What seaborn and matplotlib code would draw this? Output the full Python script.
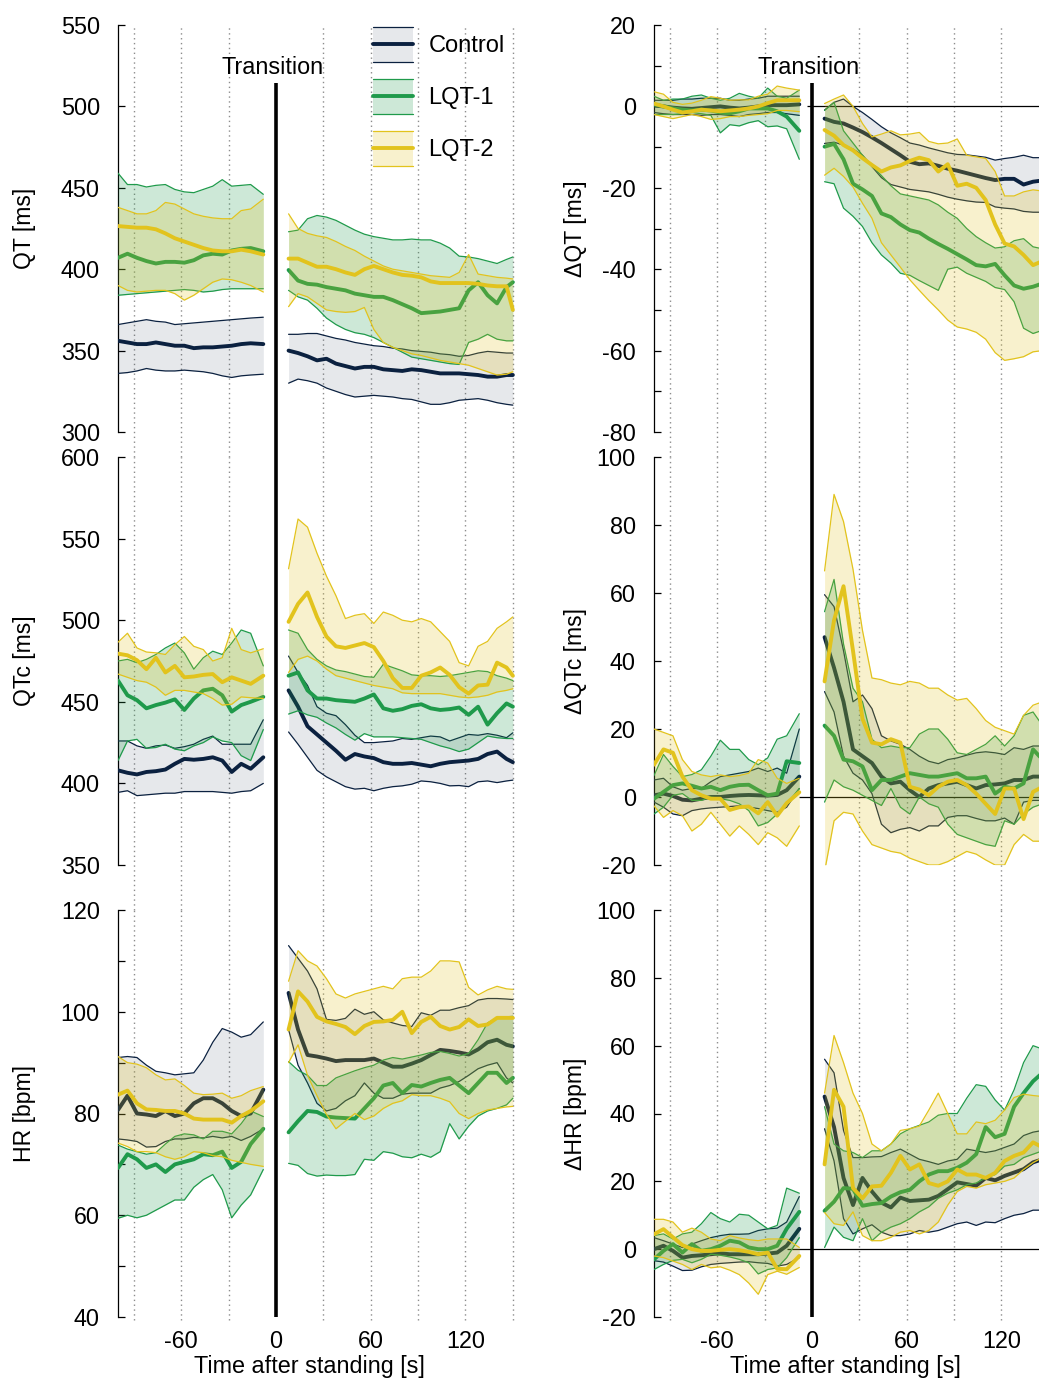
#!/usr/bin/env python
"""
  QT, QTc and heart rate around standing up: Control vs LQT-1 vs LQT-2
"""

import matplotlib
matplotlib.use('Agg')
import matplotlib.pyplot as plt
import matplotlib.transforms as mtransforms
from matplotlib.legend_handler import HandlerBase
from matplotlib.lines import Line2D
from matplotlib.patches import Rectangle
from matplotlib.ticker import MultipleLocator
import seaborn as sns
import pandas as pd

# sample times (s) before and after the transition
PRE_T = [-100, -94, -88, -82, -76, -70, -64, -58, -52, -46, -40, -34, -28, -22, -16, -8]
POST_T = [8, 14, 20, 26, 32, 38, 44, 50, 56, 62, 68, 74, 80, 86, 92, 98, 104, 110,
          116, 122, 128, 134, 140, 146, 150]
GRID_X = [-90, -60, -30, 30, 60, 90, 120, 150]
XTICKS = [-60, 0, 60, 120]

GROUPS = ["Control", "LQT-1", "LQT-2"]
COLORS = ["#0b2140", "#1f9a4b", "#e2c31d"]
ALPHAS = [0.10, 0.22, 0.22]

# every list: 16 values before standing, then 25 after

# --- QT [ms]
qt_ctrl_mean = [356, 355, 354, 354, 355, 354, 353, 353, 351.5, 352, 352, 352.5, 353, 354, 354.5, 354,
                350, 348.5, 346.5, 344, 345, 342, 340.5, 339, 340, 340, 338.5, 338, 337.5, 338.5, 338,
                337, 336, 336, 336, 335.5, 335, 334, 334, 335, 335]
qt_ctrl_hi = [366, 367, 368, 369, 368, 367.5, 366, 366.5, 367, 367.5, 368, 368.5, 369, 369.5, 370, 370.5,
              360, 360, 360.5, 360.5, 359, 357.5, 356.5, 355, 354, 353, 352.5, 351.5, 351, 350, 349.5,
              349, 348, 347.5, 346.5, 347, 348.5, 349.5, 349, 348.5, 348.5]
qt_ctrl_lo = [336, 336.5, 337.5, 339, 338, 337.5, 337.5, 338, 337.5, 337, 336, 334.5, 333.5, 334.5, 335, 335.5,
              330, 332.5, 331.5, 330, 327, 325, 323, 321.5, 322, 322.5, 322, 321.5, 320.5, 320, 318.5,
              317, 317, 318, 319.5, 320, 320.5, 319.5, 318, 317, 316.5]
qt_lqt1_mean = [407, 409.5, 407, 405, 403.5, 404.5, 404.5, 404, 405.5, 408.5, 409.5, 409, 411.5, 412.5, 413, 411,
                399.5, 393, 391, 390.5, 389, 388, 387, 385, 384, 383, 383, 381, 378.5, 376, 373,
                373.5, 374, 375, 376, 387, 392, 384, 379, 389, 392]
qt_lqt1_hi = [459, 452, 452, 450.5, 451.5, 452, 449, 447.5, 447, 449, 451, 455, 451, 451.5, 452, 446,
              423, 424, 431, 433, 432, 430, 427, 424, 421.5, 420, 419, 418, 418, 418.5, 418,
              418, 416, 413, 408, 407.5, 406.5, 405, 403.5, 406, 407.5]
qt_lqt1_lo = [384, 384.5, 385, 385.5, 386, 386.5, 387, 387.5, 387, 386, 386.5, 387.5, 388, 388, 388, 388,
              387, 383, 381, 376, 370, 366, 363, 361, 360, 358, 355, 352, 349, 346, 345,
              344, 343, 342, 341.5, 355, 357, 360, 357, 356, 356]
qt_lqt2_mean = [426.5, 426, 425.5, 425.5, 424.5, 422, 419, 417, 415, 413, 411.5, 411, 411, 412, 411, 409,
                406.5, 406.5, 404, 401.5, 401.5, 400, 398, 396.5, 400, 402, 400, 398, 396.5, 396, 395,
                392.5, 391.5, 391.5, 391.5, 391.5, 391, 390, 389.5, 389.5, 375]
qt_lqt2_hi = [438, 436, 434, 434, 436, 441, 440, 437, 434, 432.5, 431.5, 431, 431, 436, 437, 443,
              434, 425, 422, 420.5, 419.5, 417, 414, 411.5, 408, 405, 402, 400, 399, 398, 397,
              396, 395.5, 395, 398, 409, 397, 396, 395, 394.5, 394]
qt_lqt2_lo = [390, 387, 386, 386.5, 387, 387, 385, 381, 384, 388, 392, 394, 393.5, 392, 390, 386,
              377, 385, 383, 379, 375, 374, 373.5, 374, 376.5, 363, 355, 352, 350, 348, 347,
              345.5, 344, 343, 342, 341, 339, 337, 335, 335.5, 337]

# --- delta QT [ms]
dqt_ctrl_mean = [0.2, 0, -0.3, -0.5, -0.6, -0.4, -0.2, 0, -0.3, -0.5, -0.3, 0, 0.3, 0.3, 0.3, 0.5,
                 -3, -3.8, -4.2, -5.2, -6.3, -7.6, -9, -10.5, -12, -13.6, -14.2, -14, -14.6, -15.3, -15.8,
                 -16.4, -17, -17.6, -18.1, -17.8, -17.8, -19.2, -18.5, -18.2, -18.2]
dqt_ctrl_hi = [1.5, 1.5, 1.5, 1.8, 1.8, 2, 2, 2, 1.5, 1.5, 1.8, 2, 2.5, 2.5, 2.5, 2.5,
               -0.9, 1, 1.8, 0, -1.5, -3.2, -5, -6.5, -7.7, -9, -9.5, -10.2, -10.8, -11.4, -11.8,
               -11.9, -12.2, -12.5, -13.2, -12.8, -12.5, -12, -12.6, -12.6, -12.6]
dqt_ctrl_lo = [-1.5, -1.8, -2, -2, -2, -2.2, -2, -2, -2.2, -2.5, -2, -1.8, -1.5, -1.5, -1.8, -2.2,
               -9.1, -8.8, -9.5, -10.5, -12, -14.8, -17.5, -19.2, -19.8, -20.4, -20.7, -21, -21.6, -22.3, -22.8,
               -23.2, -23.5, -23.6, -24.7, -25, -25.2, -25.8, -26, -26, -26]
dqt_lqt1_mean = [0.5, 0, -0.5, -0.8, -1, -0.8, -1, -1.5, -1.7, -1.2, -0.5, -0.5, -0.5, -1.2, -2.5, -6,
                 -9.9, -9.2, -13, -19, -20.4, -22, -26.3, -27.2, -29, -30.4, -31, -32.5, -33.8, -35, -36.3,
                 -37.6, -39, -39.3, -38.7, -41.5, -44, -44.8, -44.3, -43.5, -43.5]
dqt_lqt1_hi = [2.5, 1.5, 1.8, 1.8, 2.5, 2.8, 2, 1.5, 2, 3.2, 2.5, 2, 4.5, 2.5, 2, 4,
               -1, 1, -6, -9, -12, -14.5, -17, -19.5, -21.5, -22, -22.5, -23, -24.2, -26, -27.5,
               -30, -32, -33.5, -34.8, -34.5, -33, -32.5, -34.5, -35, -35]
dqt_lqt1_lo = [-2, -2, -2, -1.8, -1.5, -1.8, -2.2, -6.5, -4.5, -4.8, -4, -3.5, -5, -4.8, -5.5, -13,
               -18.5, -19, -25, -27, -29.5, -33.5, -36.5, -38.5, -41, -41.5, -42.8, -44, -45.2, -40, -39.5,
               -41, -42, -43, -44.5, -45, -48, -54.5, -55.8, -55, -55]
dqt_lqt2_mean = [0.7, 0, -0.8, -1.5, -1.2, -0.8, -1, -1.2, -1, -0.8, -0.5, 0, 0.8, 1.5, 1.5, 1.5,
                 -5.8, -7.2, -9.5, -10.8, -12.7, -14.4, -16, -15, -14.5, -13.4, -12.6, -13.2, -16, -14.2, -19.5,
                 -19, -20, -23, -29, -33.7, -34.4, -36.5, -39, -38, -38]
dqt_lqt2_hi = [3.6, 3, 1, 0.5, 0.8, 1.5, 2.4, 2, 1.5, 1.6, 1.6, 2.5, 3, 5, 4.5, 4,
               0.7, 1.8, 2.8, 0, -4.2, -7.5, -6.8, -6, -7, -6.8, -6.4, -8.6, -9.2, -9, -8,
               -12, -12.4, -12.8, -16, -22, -22, -21, -20.5, -20.8, -21]
dqt_lqt2_lo = [-2, -2.5, -3, -2.5, -2, -2.5, -3.2, -3, -2.5, -2.5, -2.2, -2, -1.8, -1, -1, -1.3,
               -16.9, -15.2, -17.2, -19.8, -23.8, -27.5, -33.5, -36.5, -39.5, -42.6, -45.2, -47.7, -50, -52.5, -54.2,
               -54.7, -55.5, -57.2, -60.5, -62.4, -62, -61.5, -60.3, -60, -60]

# --- QTc [ms]
qtc_ctrl_mean = [408, 406.5, 405.5, 407, 407.5, 408.5, 412, 415, 414.5, 415, 416, 414, 407, 412, 409, 416,
                 457, 447, 435, 430, 425, 420, 414.5, 418, 416.5, 415.5, 413, 412, 412, 412.5, 411.5,
                 410.5, 412, 413, 413.5, 414, 415, 418, 419.5, 415, 413]
qtc_ctrl_hi = [426, 426, 423, 421.5, 423, 423.5, 421.5, 422.5, 424, 427, 429, 424, 424, 424, 424, 439,
               478, 468, 460, 447, 443, 441.5, 436, 429.5, 425, 425, 425.5, 426, 427.5, 427, 428,
               429, 428.5, 426, 428, 430, 429.5, 430.5, 429.5, 428, 431]
qtc_ctrl_lo = [394.5, 395.5, 392.5, 393, 393.5, 394, 394, 395, 395, 395, 395, 394.5, 394, 395, 395.5, 400,
               431.5, 424, 416, 408, 404, 401, 398, 396.5, 397, 395.5, 397, 398, 398.5, 399.5, 401.5,
               401, 400, 398.5, 398.7, 398, 401, 401.5, 400.5, 401.5, 402]
qtc_lqt1_mean = [463, 454, 451, 446, 448, 449.5, 451.5, 445, 452, 457, 458, 454, 444, 448, 450, 453,
                 466, 468, 457, 452, 452, 451, 450.5, 450, 452, 454.5, 446, 444.5, 445.5, 447.5, 448.5,
                 446, 445, 445.5, 446.5, 442, 447, 436, 443, 449, 447]
qtc_lqt1_hi = [475, 476, 474, 476, 479, 483, 486, 480, 470, 477, 481, 479, 486, 494, 492, 472,
               494, 492, 482, 476, 472, 469.5, 468.5, 467, 465.5, 465, 473, 471, 469, 466.5, 466,
               466, 465.5, 466, 467, 468, 469, 468.5, 466, 464.5, 463]
qtc_lqt1_lo = [414, 426, 427, 421.5, 422, 424, 421, 420, 423, 425, 428.5, 426, 425, 417, 414, 433,
               442.5, 444.5, 442, 440.5, 437, 434, 430, 426.5, 430.5, 428.5, 428.5, 428.5, 428, 427.5, 427,
               425, 423, 421.5, 419.5, 421, 425, 429, 428, 427.5, 427.5]
qtc_lqt2_mean = [479.5, 478.5, 475.5, 470, 477, 468, 472, 465, 465.5, 466.5, 467, 462, 465, 463, 461, 466,
                 499, 510, 517, 502, 490, 484, 483, 484.5, 486, 483.5, 475, 464.5, 458.5, 458.5, 466,
                 468, 471, 466.5, 459, 455, 460, 460.5, 474, 471, 466]
qtc_lqt2_hi = [486.5, 492, 483, 480.5, 480, 479, 485, 490, 484, 482, 475, 477, 495, 482, 480, 482.5,
               531.5, 562, 557, 541, 527, 515, 501, 503, 504, 498, 505, 503, 500, 499, 501,
               499, 493, 487, 474, 472, 484, 487, 495, 499, 502]
qtc_lqt2_lo = [467, 465, 463, 462, 459, 454, 457, 457, 456, 455, 452, 448, 448.5, 453, 452.5, 452,
               468, 476, 478, 475, 470, 466, 464.5, 463, 461.5, 460, 459, 458, 455.5, 455, 455,
               455, 455, 454, 453, 452.5, 453, 454, 456, 457, 458]

# --- delta QTc [ms]
dqtc_ctrl_mean = [0.5, 1, 0.3, -0.8, -1, -0.5, 0, 0, 0.3, 0.5, 0.6, 0.5, 0.4, 0.6, 2, 6,
                  47, 38, 28, 14, 12, 10, 6, 4, 4.5, 2, 0, 2.5, 3.5, 4, 4.5,
                  3.5, 2.5, 3.5, 3.7, 4, 5, 5, 6, 6, 6]
dqtc_ctrl_hi = [5, 5.5, 3, 2, 2.5, 2.5, 4.5, 6, 6.5, 7, 7.5, 8.5, 7.5, 8.5, 7, 20,
                59.5, 56, 43, 28, 30, 26, 18, 16.5, 15.5, 14, 12, 10.5, 9.8, 11, 11.5,
                12.3, 13, 13.3, 13, 12.5, 14.5, 14, 15, 15, 15]
dqtc_ctrl_lo = [-1.5, -3, -5, -5.5, -4, -3.5, -3.2, -3, -2.8, -2.6, -3, -3.4, -4, -4.5, -3, 2.5,
                31, 25, 12, 7, 5, 1, -8, -10.5, -9.5, -9, -10, -8.5, -8.5, -6, -5.5,
                -5.5, -6.3, -7, -7, -6.2, -8, -1.5, -1, -1, -1]
dqtc_lqt1_mean = [-0.5, 1.5, 3.5, 4, 3.3, 2.5, 3, 2, 3, 3.5, 3.6, 2, 0.5, 1, 10.5, 10,
                  21, 18, 11, 10.5, 9, 2, 5, 5, 6, 7, 6.5, 6, 6, 6.5, 7,
                  5.5, 5.5, 6, 1, 3, 2.5, 4, 14, 11, 11]
dqtc_lqt1_hi = [6.3, 12.5, 9, 6, 6.6, 8, 12, 16.7, 14, 14, 11, 9.5, 11.5, 17, 18, 24.5,
                54.5, 64, 45, 32, 28, 17, 14.5, 15, 14.5, 14.5, 18.5, 20, 20, 17, 13,
                12.5, 14, 15.5, 18, 15, 18, 24, 25, 21, 20]
dqtc_lqt1_lo = [-5, -3, 0.5, 1, -1, -1, 0, -0.5, -1, -2, -4, -8.5, -7.5, -5, -2, 2.5,
                -1.5, 5, 3, 2, 0.5, -1, -2.5, 2.5, -3, -5, 0, -2, -3, -8, -11,
                -12, -13, -14, -14.5, -7, -8, -5, -3, -2, -2]
dqtc_lqt2_mean = [9.5, 14, 13, 6, 2, 0.5, -0.5, -0.5, -3.8, -3, -2.8, -4.8, -1.5, -5.5, -1.8, 1.4,
                  34, 52, 62, 43, 23, 16, 15.5, 17, 16, 3, 2.2, 0.5, 3, 4.5, 5,
                  3.5, 1, -2, -5, 2.5, 2.5, -6.5, 1.5, 3, 3]
dqtc_lqt2_hi = [20, 19, 18, 11, 7.5, 6.5, 6, 6.5, 6, 6.3, 7, 11, 10, 5.5, 4, 5.5,
                66.5, 89, 81, 67, 49, 35, 34.5, 33.5, 33, 34, 33.5, 32, 32, 30, 28.5,
                29, 26, 22.5, 20.5, 19.5, 18.5, 24, 27, 28, 28]
dqtc_lqt2_lo = [-2.6, -6, -4, -5.5, -10, -8, -4.5, -8, -11.5, -8.5, -11, -14, -10.5, -12, -14.5, -8.5,
                -22, -7, -4.5, -5, -10, -14, -15, -16, -16.5, -18, -19, -20, -20, -19, -17.5,
                -16, -16.8, -18.5, -20, -20, -14, -11, -13, -13, -13]

# --- HR [bpm]
hr_ctrl_mean = [80.7, 83.5, 80, 79.8, 79.5, 80.5, 79.5, 80, 82, 83, 83, 82, 80.5, 79.5, 80, 84.7,
                103.7, 96.5, 91.5, 91.2, 90.8, 90.3, 90.5, 90.5, 90.5, 90.8, 90, 89.2, 89.2, 89.8, 90.5,
                91.5, 92.5, 92.3, 92, 91.6, 92.6, 94, 94.5, 93.5, 93.2]
hr_ctrl_hi = [91, 91.2, 91, 89.5, 88.3, 88, 87.6, 87.8, 88, 90.5, 94, 96.7, 96, 95, 95.5, 98,
              113, 110.5, 108, 104.5, 98.5, 98.3, 98.7, 100.5, 99.5, 100, 98.4, 97.8, 97.3, 97.1, 99.8,
              99.3, 100.3, 100.3, 100.8, 101.2, 102.3, 102.6, 102.6, 102.5, 102.4]
hr_ctrl_lo = [75, 74.8, 74.5, 73.4, 73.5, 74.5, 75, 75, 75.3, 75.2, 75.5, 75.2, 75.5, 74.7, 75.5, 77,
              96.5, 89.5, 86, 82, 80.5, 81, 82.5, 83.5, 86, 84, 83, 83, 83.8, 84, 84,
              84, 85, 85.5, 86.3, 87.5, 88.8, 89.5, 90, 87, 86]
hr_lqt1_mean = [69.3, 72, 71, 69.3, 70, 68.5, 70, 70.5, 71, 72, 71.8, 72.5, 69.3, 70.5, 74, 77,
                76.3, 78.5, 80.5, 80.3, 79.4, 79.2, 79.1, 79, 81, 83, 85.5, 86, 84, 85.6, 85.3,
                86, 86.6, 87, 85.5, 84, 86, 88, 88, 86, 87]
hr_lqt1_hi = [73.8, 73, 72.5, 72, 72.3, 74, 75.5, 76, 75.8, 75, 76.5, 76.5, 76, 78, 80.5, 79.4,
              90.2, 88.5, 87.5, 85.5, 85.5, 87, 87.7, 88.4, 89, 89.5, 90.5, 91, 90.7, 91.1, 91.5,
              92, 92.2, 91.8, 91.3, 91.8, 94.5, 97.8, 98.8, 99, 99.1]
hr_lqt1_lo = [59.4, 60, 59.5, 60, 61, 62, 63, 63, 65.5, 67, 68, 65, 59.5, 62, 64, 69,
              70.2, 69.8, 68.2, 67.7, 67.9, 67.8, 67.8, 68, 71, 70.8, 72.5, 72.2, 71.5, 71.3, 72,
              71.4, 72.5, 78, 75, 77.5, 79.5, 80.5, 81, 81.7, 83]
hr_lqt2_mean = [83.7, 84.5, 82, 80.8, 80.7, 80.5, 80.5, 80, 79, 78.8, 78.8, 78.8, 78.2, 79.5, 80.5, 82.4,
                96.5, 104, 102, 99, 98.1, 97.6, 97, 95.6, 97.2, 98, 98.1, 98.4, 100, 95.8, 98,
                99, 97.2, 96.5, 97, 98.5, 97.2, 97.5, 98.8, 98.8, 98.8]
hr_lqt2_hi = [91.2, 90, 89.7, 89, 87.6, 86.6, 86.8, 85.5, 84, 83.7, 83.8, 84, 83, 83.5, 84.5, 85.3,
              106, 112, 110, 109, 106.5, 103.5, 102.7, 103.5, 104, 104.5, 105, 104.5, 106.5, 106.8, 106.8,
              108, 110, 110, 109.8, 104.8, 103.3, 104.3, 105, 104.5, 104.4]
hr_lqt2_lo = [74.2, 73.5, 72.5, 72.5, 72.3, 71.5, 71, 71.5, 72.5, 72.3, 71.7, 71.5, 70.8, 70.4, 70, 69.6,
              90, 93.5, 87.5, 83.5, 79.8, 77, 78.5, 80, 78.8, 79.5, 81, 82, 82.5, 83.7, 83.5,
              83.5, 83, 82.3, 80, 79, 80, 80.7, 81, 81.3, 81.4]

# --- delta HR [bpm]
dhr_ctrl_mean = [0, 1, -0.5, -2.5, -2, -1.8, -1.5, -1.2, -1.5, -1.5, -1.5, -1.5, -1.3, -1, 1, 6,
                 45, 36, 21, 13, 21, 17, 13.7, 12.3, 15.2, 14.2, 14.4, 14.6, 15.7, 17.7, 19.7,
                 19.2, 18.7, 21, 20.3, 21.6, 22.6, 23.6, 25.6, 26.5, 26.5]
dhr_ctrl_hi = [3.4, 2.5, 1.5, 0.5, 1.5, 2.5, 3.4, 4, 4.4, 4.4, 4.5, 5.5, 6, 6.2, 8, 15.5,
               56, 52, 35, 27, 27, 27.2, 27.3, 28.5, 29.5, 28, 26.5, 25.8, 25, 26, 26.5,
               29.5, 29, 28.5, 29, 30, 31, 33.5, 34.5, 35, 35]
dhr_ctrl_lo = [-3.4, -3.8, -5, -6.3, -6.2, -5.2, -4.5, -4.2, -4, -3.8, -3.7, -4, -4.2, -5, -4.5, -2.5,
               35.5, 26, 9, 4.5, 6, 7.2, 5, 4, 4, 4.5, 5.5, 5, 5.5, 6.5, 7.5,
               8, 7, 8, 7.8, 9, 10, 10.5, 11.5, 11.5, 11.5]
dhr_lqt1_mean = [-3, -0.5, 1.5, -1, 1.5, -0.5, 0, 1, 2.5, 2, 0.5, 0, 0, 1, 6, 11,
                 11.3, 14, 18, 17.8, 12.8, 13.3, 13.6, 15.5, 16.8, 17.5, 20, 22, 23, 23, 24,
                 25.5, 28, 36, 33, 34, 42, 46, 49.5, 52, 52]
dhr_lqt1_hi = [4, 4.5, 3, 4.5, 5, 7.5, 10.8, 9, 8, 10.3, 10, 8, 6, 7, 18, 16.5,
               42, 31, 29, 28.5, 27, 29, 29, 31, 34, 35.5, 36.5, 37.5, 39.5, 40, 40,
               44.5, 48.5, 48, 44, 41, 47, 55, 60, 59, 59]
dhr_lqt1_lo = [-6, -4.5, -3.3, -3, -4, -3, -1.5, -1.8, -2.3, -3, -4, -7.3, -6, -5.5, -2.5, 3.4,
               0.5, 6.5, 3.5, 2.5, 9, 2.5, 5, 6.5, 7.5, 9, 11, 12.5, 15, 16.5, 17.5,
               19, 19.5, 21, 22, 24.5, 25, 27, 28, 29, 29]
dhr_lqt2_mean = [4.4, 5.9, 3.5, 1.2, 0, -0.5, -0.5, -0.2, 0, -0.3, -0.8, -1.5, -1, -5.8, -5.9, -2,
                 25, 47, 42, 18, 15, 18.5, 18.7, 22.5, 27.5, 23.5, 25, 19.5, 18.7, 20, 23.5,
                 22, 22, 21, 22.5, 26, 27.5, 28.5, 31.5, 30, 30]
dhr_lqt2_hi = [8.8, 8.8, 8, 5, 6.2, 5, 3, 2.5, 4, 3.3, 2.8, 2.5, 3, 3, 3, 0.5,
               46, 63, 55, 46, 40, 31, 29, 31, 35, 35.5, 36.3, 41, 46, 40, 34,
               34, 37.5, 37, 38, 41, 44.7, 45.7, 45.3, 45, 45]
dhr_lqt2_lo = [-2, -2.5, -3.5, -4.5, -6, -4.5, -5.5, -5.2, -6.2, -7.5, -10, -13.3, -7.5, -6.5, -7.4, -5.4,
               10.8, 7.5, 7, 11, 4, 2.5, 2.5, 3.5, 5, 5.5, 4.5, 5.5, 8, 13, 17,
               18.5, 18, 19, 19.5, 20, 21, 23.5, 25.5, 27, 27]


PANELS = [
  # row, col, ylabel, ylim, major, minor, zero line start, series per group (mean, lo, hi)
  (0, 0, "QT [ms]", (300, 550), 50, None, None,
   [(qt_ctrl_mean, qt_ctrl_lo, qt_ctrl_hi), (qt_lqt1_mean, qt_lqt1_lo, qt_lqt1_hi),
    (qt_lqt2_mean, qt_lqt2_lo, qt_lqt2_hi)]),
  (0, 1, "\u0394QT [ms]", (-80, 20), 20, 10, -3,
   [(dqt_ctrl_mean, dqt_ctrl_lo, dqt_ctrl_hi), (dqt_lqt1_mean, dqt_lqt1_lo, dqt_lqt1_hi),
    (dqt_lqt2_mean, dqt_lqt2_lo, dqt_lqt2_hi)]),
  (1, 0, "QTc [ms]", (350, 600), 50, None, None,
   [(qtc_ctrl_mean, qtc_ctrl_lo, qtc_ctrl_hi), (qtc_lqt1_mean, qtc_lqt1_lo, qtc_lqt1_hi),
    (qtc_lqt2_mean, qtc_lqt2_lo, qtc_lqt2_hi)]),
  (1, 1, "\u0394QTc [ms]", (-20, 100), 20, None, -8,
   [(dqtc_ctrl_mean, dqtc_ctrl_lo, dqtc_ctrl_hi), (dqtc_lqt1_mean, dqtc_lqt1_lo, dqtc_lqt1_hi),
    (dqtc_lqt2_mean, dqtc_lqt2_lo, dqtc_lqt2_hi)]),
  (2, 0, "HR [bpm]", (40, 120), 20, 10, None,
   [(hr_ctrl_mean, hr_ctrl_lo, hr_ctrl_hi), (hr_lqt1_mean, hr_lqt1_lo, hr_lqt1_hi),
    (hr_lqt2_mean, hr_lqt2_lo, hr_lqt2_hi)]),
  (2, 1, "\u0394HR [bpm]", (-20, 100), 20, None, -16,
   [(dhr_ctrl_mean, dhr_ctrl_lo, dhr_ctrl_hi), (dhr_lqt1_mean, dhr_lqt1_lo, dhr_lqt1_hi),
    (dhr_lqt2_mean, dhr_lqt2_lo, dhr_lqt2_hi)]),
]

# layout in pixels of the 1039 x 1382 canvas
W, H = 1039, 1382
COL_LEFT = [118, 654]
AX_W = 398
ROW_TOP = [25, 457, 910]
ROW_BOTTOM = [432, 865, 1317]
GAP_BELOW = [457 - 432, 910 - 865, 3]   # gridlines run through the gaps
VLINE_TOP = 83                           # top of the black "transition" line


class BandHandler(HandlerBase):
  """ legend key: shaded band with thin edges and a thick mean line """

  def __init__(self, color, alpha):
    super().__init__()
    self.color = color
    self.alpha = alpha

  def create_artists(self, legend, orig_handle, xdescent, ydescent, width, height, fontsize, trans):
    x0, y0 = -xdescent, -ydescent
    rect = Rectangle((x0, y0), width, height, facecolor=self.color, alpha=self.alpha,
                     lw=0, transform=trans)
    top = Line2D([x0, x0 + width], [y0 + height] * 2, color=self.color, lw=0.9, transform=trans)
    bot = Line2D([x0, x0 + width], [y0] * 2, color=self.color, lw=0.9, transform=trans)
    mid = Line2D([x0, x0 + width], [y0 + height / 2] * 2, color=self.color, lw=2.8, transform=trans)
    return [rect, top, bot, mid]


def make_frame(series):
  """ long table: group, stat, segment, time, value """
  times = PRE_T + POST_T
  rows = []
  for group, (mean, lo, hi) in zip(GROUPS, series):
    for stat, vals in (("mean", mean), ("lo", lo), ("hi", hi)):
      assert len(vals) == len(times), (group, stat, len(vals))
      for i, v in enumerate(vals):
        seg = "pre" if i < len(PRE_T) else "post"
        rows.append((group, stat, seg, times[i], v))
  return pd.DataFrame(rows, columns=["group", "stat", "segment", "time", "value"])


def draw_panel(ax, df):
  for i, (group, color, alpha) in enumerate(zip(GROUPS, COLORS, ALPHAS)):
    z = 3 + 3 * i
    g = df[df.group == group]
    wide = g.pivot_table(index=["segment", "time"], columns="stat", values="value")
    for seg in ("pre", "post"):
      w = wide.loc[seg]
      ax.fill_between(w.index, w["lo"], w["hi"], color=color, alpha=alpha, lw=0, zorder=z)
    for stat, lw, dz in (("lo", 0.9, 0.5), ("hi", 0.9, 0.5), ("mean", 2.8, 1)):
      sns.lineplot(data=g[g.stat == stat], x="time", y="value", units="segment",
                   estimator=None, color=color, lw=lw, zorder=z + dz, ax=ax, legend=False)


def main():
  sns.set_theme(style="white")
  plt.rcParams["font.family"] = ["Liberation Sans", "DejaVu Sans"]
  plt.rcParams["axes.unicode_minus"] = False
  for key in ("text.color", "axes.labelcolor", "xtick.color", "ytick.color", "axes.edgecolor"):
    plt.rcParams[key] = "black"

  fig = plt.figure(figsize=(W / 100, H / 100), dpi=100)

  for row, col, ylabel, ylim, major, minor, zero_from, series in PANELS:
    left = COL_LEFT[col] / W
    bottom = 1 - ROW_BOTTOM[row] / H
    height = (ROW_BOTTOM[row] - ROW_TOP[row]) / H
    ax = fig.add_axes([left, bottom, AX_W / W, height])
    ax.set_facecolor("none")

    draw_panel(ax, make_frame(series))

    ax.set_xlim(-100, 152)
    ax.set_ylim(*ylim)
    sns.despine(ax=ax, bottom=True)
    ax.spines["left"].set_linewidth(0.9)

    ax.yaxis.set_major_locator(MultipleLocator(major))
    if minor:
      ax.yaxis.set_minor_locator(MultipleLocator(minor))
    ax.tick_params(axis="y", which="both", left=True, direction="in", length=5, width=0.9,
                   pad=13, labelsize=16.8)
    ax.set_xticks(XTICKS)
    ax.tick_params(axis="x", bottom=False, length=0, pad=9, labelsize=16.8,
                   labelbottom=(row == 2))

    ax.set_ylabel(ylabel, fontsize=16.6)
    ax.yaxis.set_label_coords(-0.206 if col == 0 else -0.168, 0.5)
    if row == 2:
      ax.set_xlabel("Time after standing [s]", fontsize=16.8)
      ax.xaxis.set_label_coords(0.48, -0.094)
    else:
      ax.set_xlabel("")

    # dotted time grid, running down through the gap below each panel
    ax_h = ROW_BOTTOM[row] - ROW_TOP[row]
    below = -GAP_BELOW[row] / ax_h
    for x in GRID_X:
      ax.axvline(x, ymin=below, ymax=1, color="#8c8c8c", lw=1.0, ls=(0, (1, 2.5)),
                 zorder=0.5, clip_on=False)

    # black line marking the moment of standing up
    top = (ROW_BOTTOM[row] - VLINE_TOP) / ax_h if row == 0 else 1
    ax.axvline(0, ymin=below if row < 2 else 0, ymax=top, color="black", lw=2.6,
               solid_capstyle="butt", zorder=20, clip_on=False)

    if zero_from is not None:
      ax.hlines(0, zero_from, 160, color="black", lw=0.9, zorder=1)

    if row == 0:
      tr = mtransforms.blended_transform_factory(ax.transData, ax.transAxes)
      ax.text(-2, (ROW_BOTTOM[0] - 67) / ax_h, "Transition", transform=tr,
              ha="center", va="center", fontsize=16.8)

  handles = [Line2D([], [], color=c) for c in COLORS]
  hmap = {h: BandHandler(c, a) for h, c, a in zip(handles, COLORS, ALPHAS)}
  fig.legend(handles, GROUPS, handler_map=hmap, loc="upper left",
             bbox_to_anchor=(373 / W, 1 - 27 / H), bbox_transform=fig.transFigure,
             frameon=False, borderpad=0, borderaxespad=0, fontsize=17,
             handlelength=1.7, handleheight=1.9, handletextpad=0.65, labelspacing=0.72)

  fig.savefig("out.png", dpi=100)


if __name__ == "__main__":
  main()
